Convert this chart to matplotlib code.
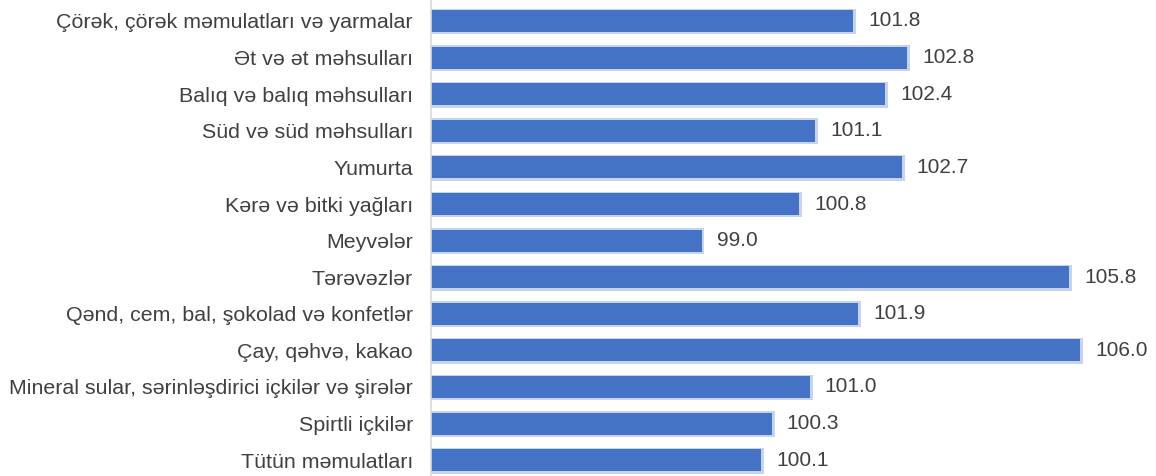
import matplotlib
matplotlib.use("Agg")
import matplotlib.pyplot as plt
from matplotlib.patches import Rectangle

categories = [
    "Çörək, çörək məmulatları və yarmalar",
    "Ət və ət məhsulları",
    "Balıq və balıq məhsulları",
    "Süd və süd məhsulları",
    "Yumurta",
    "Kərə və bitki yağları",
    "Meyvələr",
    "Tərəvəzlər",
    "Qənd, cem, bal, şokolad və konfetlər",
    "Çay, qəhvə, kakao",
    "Mineral sular, sərinləşdirici içkilər və şirələr",
    "Spirtli içkilər",
    "Tütün məmulatları",
]
values = [101.8, 102.8, 102.4, 101.1, 102.7, 100.8, 99.0, 105.8, 101.9, 106.0, 101.0, 100.3, 100.1]

plt.rcParams['font.family'] = ['Liberation Sans', 'DejaVu Sans']

W, H = 1156, 476
fig = plt.figure(figsize=(W / 100, H / 100), dpi=100)
left_px = 431
ax = fig.add_axes([left_px / W, 0, 1 - left_px / W, 1])

xmin = 94.0
px_per_unit = 54.1
xmax = xmin + (W - left_px) / px_per_unit
row_px = 36.6
first_px = 21.0
ax.set_xlim(xmin, xmax)
ax.set_ylim((H - first_px) / row_px, -first_px / row_px)

n = len(categories)
ys = list(range(n))
bh = 0.6
ux = 1.0 / px_per_unit
uy = 1.0 / row_px

# soft shadow
for y, v in zip(ys, values):
    ax.add_patch(Rectangle((xmin, y - bh / 2 - 1.5 * uy), (v - xmin) + 3 * ux, bh + 4 * uy,
                           facecolor="#c5d3ec", edgecolor="none", zorder=1))
ax.barh(ys, [v - xmin for v in values], left=xmin, height=bh, color="#4472c4", zorder=2)

for y, v in zip(ys, values):
    ax.text(v + 15 * ux, y, f"{v:.1f}", va="center", ha="left", fontsize=15, color="#404040")

ax.set_yticks(ys)
ax.set_yticklabels(categories, fontsize=15.4, color="#404040")
ax.tick_params(axis="y", length=0, pad=13)
ax.set_xticks([])
for s in ["top", "right", "bottom"]:
    ax.spines[s].set_visible(False)
ax.spines["left"].set_color("#d9d9d9")
ax.spines["left"].set_linewidth(1.2)

fig.savefig("out.png", dpi=100)
